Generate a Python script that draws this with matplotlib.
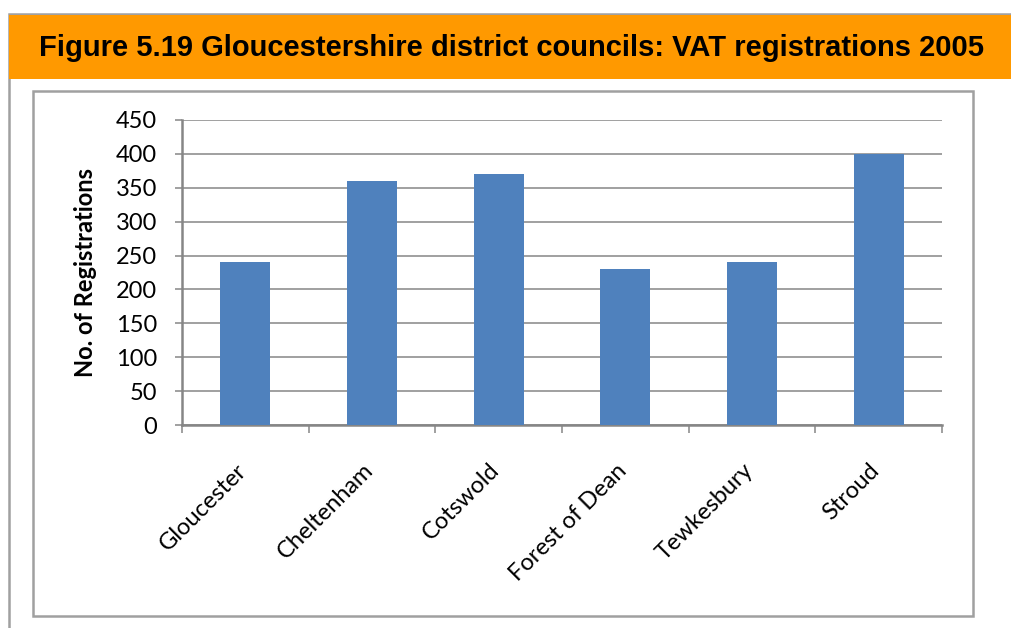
'''
Gloucestershire district councils: VAT registrations 2005
'''
import matplotlib
matplotlib.use('Agg')
import matplotlib.pyplot as plt
import matplotlib.transforms as mtransforms
from matplotlib.patches import Rectangle

#Data
districts = ['Gloucester', 'Cheltenham', 'Cotswold', 'Forest of Dean', 'Tewkesbury', 'Stroud']

registrations = [240, 360, 370, 230, 240, 400]

y_ticks = [0, 50, 100, 150, 200, 250, 300, 350, 400, 450]

title = 'Figure 5.19 Gloucestershire district councils: VAT registrations 2005'

W = 1012
H = 628

label_font = ['Lato', 'DejaVu Sans']

fig = plt.figure(figsize = (W / 100, H / 100), dpi = 100)

#Helper: pixel box (top-left origin) to figure fraction
def px_rect(x0, y0, x1, y1):
    return [x0 / W, 1 - y1 / H, (x1 - x0) / W, (y1 - y0) / H]

#Outer frame and orange header band
fig.patches.append(Rectangle((8.5 / W, -0.1), 1.2, (1 - 14 / H) + 0.1,
                             transform = fig.transFigure, facecolor = 'white',
                             edgecolor = '#A0A0A0', linewidth = 1.8, zorder = 0))

fig.patches.append(Rectangle((9.5 / W, 1 - 79 / H), 1.1, 64 / H,
                             transform = fig.transFigure, facecolor = '#FF9900',
                             edgecolor = 'none', zorder = 1))

fig.text(39 / W, 1 - 48 / H, title, ha = 'left', va = 'center',
         fontsize = 21, fontweight = 'bold', family = 'Liberation Sans', zorder = 2)

#Inner chart frame
fig.patches.append(Rectangle((33 / W, 1 - 616 / H), 940 / W, 525 / H,
                             transform = fig.transFigure, facecolor = 'white',
                             edgecolor = '#A0A0A0', linewidth = 1.8, zorder = 1))

axis = fig.add_axes(px_rect(182, 120, 942, 425))

axis.set_zorder(3)

axis.patch.set_alpha(0)

positions = list(range(len(districts)))

axis.bar(positions, registrations, width = 0.395, color = '#4F81BD', zorder = 3)

axis.set_xlim(-0.5, len(districts) - 0.5)

axis.set_ylim(0, 450)

axis.set_yticks(y_ticks)

axis.set_yticklabels([str(v) for v in y_ticks], fontsize = 17, family = label_font)

axis.grid(axis = 'y', color = '#868686', linewidth = 1.1, zorder = 1)

for side in ['top', 'right']:
    axis.spines[side].set_visible(False)

for side in ['left', 'bottom']:
    axis.spines[side].set_color('#868686')
    axis.spines[side].set_linewidth(1.8)

axis.tick_params(axis = 'y', length = 5, width = 1.1, color = '#868686', pad = 13)

#Category labels at centres, tick marks at boundaries
axis.set_xticks(positions)

axis.set_xticks([p - 0.5 for p in positions] + [len(districts) - 0.5], minor = True)

axis.tick_params(axis = 'x', which = 'major', length = 0, pad = 25)

axis.tick_params(axis = 'x', which = 'minor', length = 6, width = 1.1, color = '#868686')

axis.set_xticklabels(districts, rotation = 45, ha = 'right', va = 'top',
                     fontsize = 17, family = label_font)

offset = mtransforms.ScaledTranslation(5 / 100, 0, fig.dpi_scale_trans)

for lbl in axis.get_xticklabels():
    lbl.set_transform(lbl.get_transform() + offset)

axis.set_ylabel('No. of Registrations', fontsize = 17, fontweight = 'bold',
                family = label_font, va = 'center')

axis.yaxis.set_label_coords(-(182 - 86) / 760, 0.5)

fig.savefig('out.png', dpi = 100)
